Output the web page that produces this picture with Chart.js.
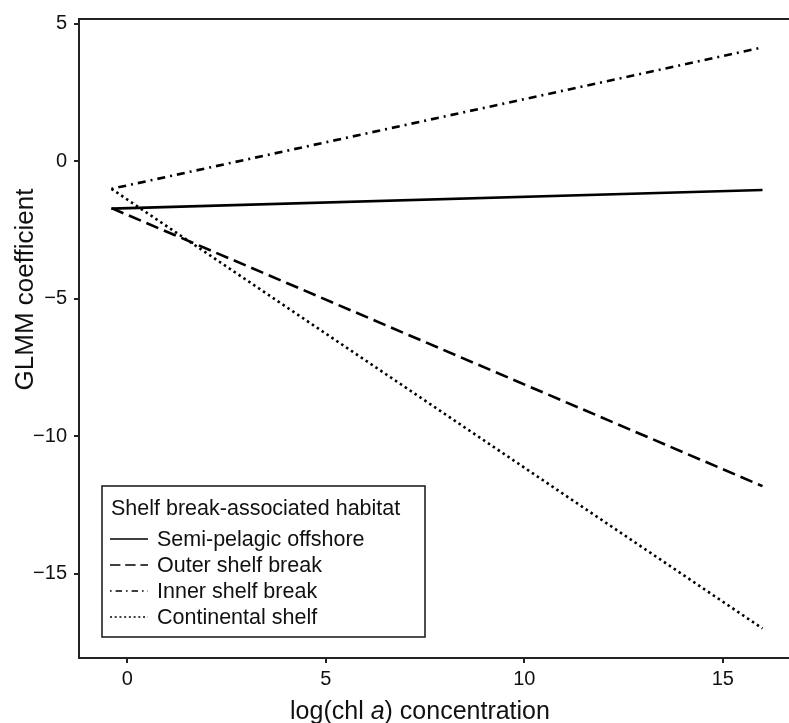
<!DOCTYPE html>
<html>
<head>
<meta charset="utf-8">
<script src="https://cdn.jsdelivr.net/npm/chart.js@4"></script>
<style>
html,body{margin:0;padding:0;background:#fff;overflow:hidden;}
canvas{display:block;}
</style>
</head>
<body>
<canvas id="c" width="789" height="723"></canvas>
<script>
// Data
const xValues = [-0.4, 16];
const seriesLabels = ['Semi-pelagic offshore', 'Outer shelf break', 'Inner shelf break', 'Continental shelf'];
const semiPelagic = [-1.72, -1.04];
const outerShelf = [-1.70, -11.82];
const innerShelf = [-1.0, 4.15];
const continental = [-1.0, -17.0];
const xTicks = [0, 5, 10, 15];
const yTicks = [-15, -10, -5, 0, 5];
const xTitle = ['log(chl ', 'a', ') concentration'];
const yTitle = 'GLMM coefficient';
const legendTitle = 'Shelf break-associated habitat';

const FONT = '"Liberation Sans", Arial, Helvetica, sans-serif';
const dashes = [[], [13, 6], [2, 5, 8, 5], [2.5, 3.4]];
const seriesValues = [semiPelagic, outerShelf, innerShelf, continental];

const datasets = seriesValues.map((arr, i) => ({
  label: seriesLabels[i],
  data: xValues.map((x, j) => ({x: x, y: arr[j]})),
  borderColor: '#000',
  borderWidth: 2.6,
  borderDash: dashes[i],
  pointRadius: 0,
  fill: false,
  tension: 0
}));

const decor = {
  id: 'decor',
  afterDraw(chart) {
    const ctx = chart.ctx;
    const a = chart.chartArea;
    ctx.save();
    // top frame line
    ctx.strokeStyle = '#222';
    ctx.lineWidth = 2;
    ctx.beginPath();
    ctx.moveTo(a.left - 1, a.top);
    ctx.lineTo(chart.width, a.top);
    ctx.stroke();

    // x title with italic a
    ctx.fillStyle = '#111';
    ctx.textBaseline = 'alphabetic';
    const fN = '25px ' + FONT, fI = 'italic 25px ' + FONT;
    ctx.font = fN; const w0 = ctx.measureText(xTitle[0]).width;
    ctx.font = fI; const w1 = ctx.measureText(xTitle[1]).width;
    ctx.font = fN; const w2 = ctx.measureText(xTitle[2]).width;
    let x = 420 - (w0 + w1 + w2) / 2;
    const yb = 719;
    ctx.textAlign = 'left';
    ctx.font = fN; ctx.fillText(xTitle[0], x, yb); x += w0;
    ctx.font = fI; ctx.fillText(xTitle[1], x, yb); x += w1;
    ctx.font = fN; ctx.fillText(xTitle[2], x, yb);

    // y title
    ctx.save();
    ctx.translate(33, 289.5);
    ctx.rotate(-Math.PI / 2);
    ctx.textAlign = 'center';
    ctx.font = '26px ' + FONT;
    ctx.fillText(yTitle, 0, 0);
    ctx.restore();

    // legend
    ctx.fillStyle = '#fff';
    ctx.fillRect(102, 486, 323, 151);
    ctx.strokeStyle = '#222';
    ctx.lineWidth = 1.6;
    ctx.strokeRect(102, 486, 323, 151);
    ctx.fillStyle = '#111';
    ctx.textAlign = 'left';
    ctx.font = '21.5px ' + FONT;
    ctx.fillText(legendTitle, 111, 515);
    chart.data.datasets.forEach((ds, i) => {
      const base = 546 + i * 26;
      const ly = base - 7;
      ctx.save();
      ctx.strokeStyle = '#000';
      ctx.lineWidth = 1.6;
      ctx.setLineDash(ds.borderDash.map(v => v * 0.8));
      ctx.beginPath();
      ctx.moveTo(110, ly);
      ctx.lineTo(148, ly);
      ctx.stroke();
      ctx.restore();
      ctx.fillText(ds.label, 157, base);
    });
    ctx.restore();
  }
};

const axisCommon = {
  type: 'linear',
  grid: {drawOnChartArea: false, drawTicks: true, tickLength: 5, color: '#222', lineWidth: 2},
  border: {display: true, color: '#222', width: 2},
  ticks: {font: {size: 20, family: FONT}, color: '#111', maxRotation: 0,
          callback: v => String(v).replace('-', '\u2212')}
};

new Chart(document.getElementById('c'), {
  type: 'line',
  data: {datasets: datasets},
  options: {
    responsive: false,
    animation: false,
    layout: {padding: {top: 15, right: 0, left: 0, bottom: 0}},
    plugins: {legend: {display: false}, tooltip: {enabled: false}},
    scales: {
      x: Object.assign({}, axisCommon, {
        min: -1.217, max: 16.667,
        ticks: Object.assign({}, axisCommon.ticks, {padding: 4}),
        afterBuildTicks: s => { s.ticks = xTicks.map(v => ({value: v})); },
        afterFit: s => { s.height = 65; }
      }),
      y: Object.assign({}, axisCommon, {
        min: -18.074, max: 5.181,
        ticks: Object.assign({}, axisCommon.ticks, {padding: 7}),
        afterBuildTicks: s => { s.ticks = yTicks.map(v => ({value: v})); },
        afterFit: s => { s.width = 79; }
      })
    }
  },
  plugins: [decor]
});
</script>
</body>
</html>
